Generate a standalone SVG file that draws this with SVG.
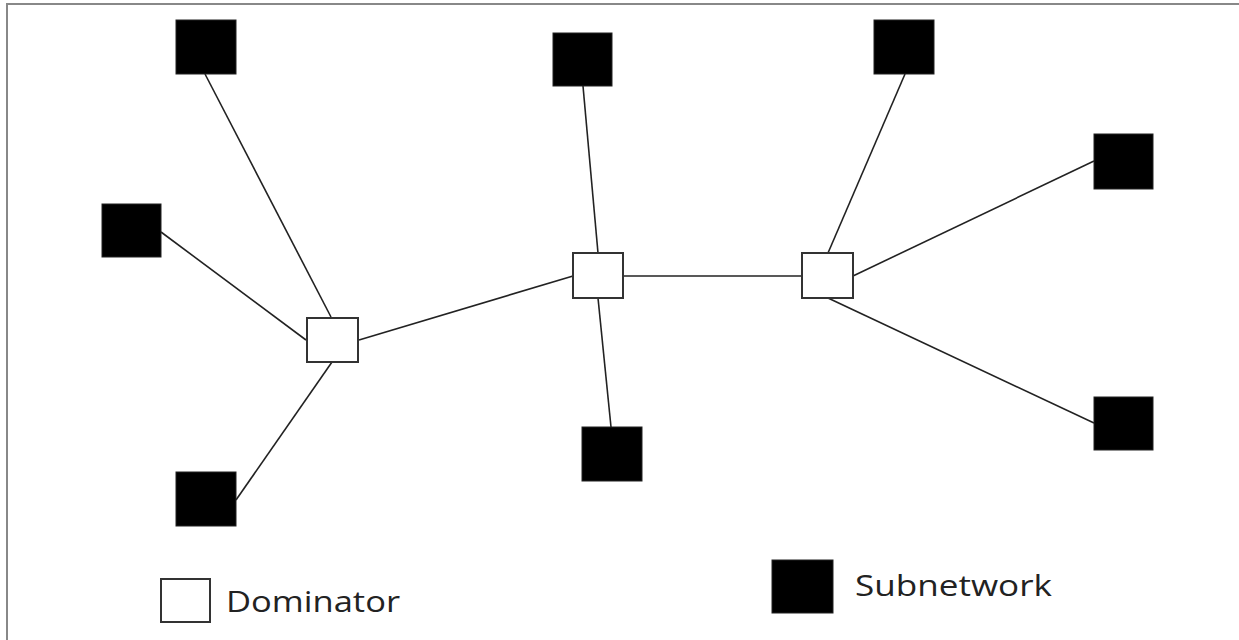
<svg xmlns="http://www.w3.org/2000/svg" width="1239" height="640" viewBox="0 0 1239 640">
<style>
.sub{fill:#000;stroke:#222;stroke-width:1}
.dom{fill:#fff;stroke:#333;stroke-width:2}
.edge{stroke:#222;stroke-width:1.6;fill:none}
.lbl{font-family:"Open Sans","Noto Sans",sans-serif;font-size:30px;fill:#222}
</style>
<rect width="1239" height="640" fill="#fff"/>
<rect x="7" y="4" width="1260" height="660" fill="none" stroke="#888" stroke-width="2"/>
<g id="connectors">
<line class="edge" x1="205" y1="74" x2="331" y2="317"/>
<line class="edge" x1="161" y1="232" x2="306" y2="340"/>
<line class="edge" x1="332" y1="362" x2="236" y2="500"/>
<line class="edge" x1="359" y1="340" x2="573" y2="276"/>
<line class="edge" x1="583" y1="86" x2="598" y2="253"/>
<line class="edge" x1="598" y1="298" x2="611" y2="427"/>
<line class="edge" x1="623" y1="276" x2="802" y2="276"/>
<line class="edge" x1="905" y1="74" x2="828" y2="253"/>
<line class="edge" x1="853" y1="276" x2="1094" y2="161"/>
<line class="edge" x1="828" y1="298" x2="1094" y2="423"/>
</g>
<g id="s1"><rect class="sub" x="176" y="20" width="60" height="54"/></g>
<g id="s2"><rect class="sub" x="102" y="204" width="59" height="53"/></g>
<g id="s3"><rect class="sub" x="176" y="472" width="60" height="54"/></g>
<g id="s4"><rect class="sub" x="553" y="33" width="59" height="53"/></g>
<g id="s5"><rect class="sub" x="582" y="427" width="60" height="54"/></g>
<g id="s6"><rect class="sub" x="874" y="20" width="60" height="54"/></g>
<g id="s7"><rect class="sub" x="1094" y="134" width="59" height="55"/></g>
<g id="s8"><rect class="sub" x="1094" y="397" width="59" height="53"/></g>
<g id="d1"><rect class="dom" x="307" y="318" width="51" height="44"/></g>
<g id="d2"><rect class="dom" x="573" y="253" width="50" height="45"/></g>
<g id="d3"><rect class="dom" x="802" y="253" width="51" height="45"/></g>
<g id="legend-dominator">
<rect class="dom" x="161" y="579" width="49" height="43"/>
<text class="lbl" x="226" y="612" textLength="174" lengthAdjust="spacingAndGlyphs">Dominator</text>
</g>
<g id="legend-subnetwork">
<rect class="sub" x="772" y="560" width="61" height="53"/>
<text class="lbl" x="855" y="596" textLength="197" lengthAdjust="spacingAndGlyphs">Subnetwork</text>
</g>
</svg>
